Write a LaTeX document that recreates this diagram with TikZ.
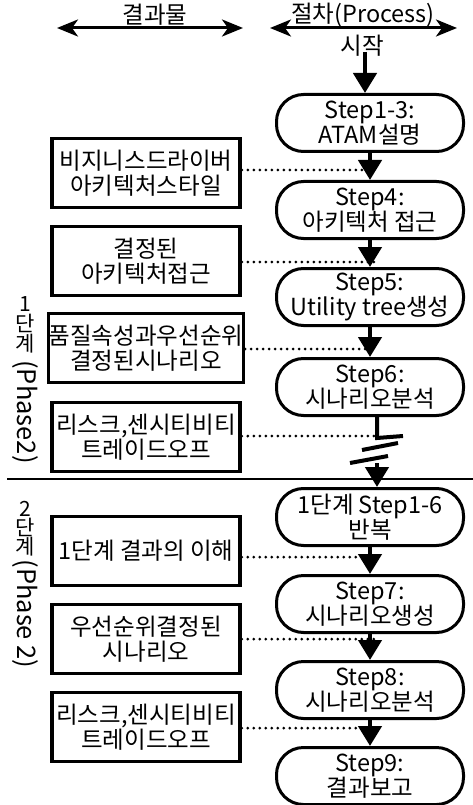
\documentclass[tikz,border=0pt]{standalone}
\usepackage{fontspec}
\setmainfont{Noto Sans CJK KR}
\usetikzlibrary{arrows.meta}
\begin{document}
\begin{tikzpicture}[x=1pt,y=-1pt,
  txt/.style={font=\fontsize{23.5}{25}\selectfont, inner sep=0pt, align=center},
  stepbox/.style={txt, draw, line width=3pt, minimum width=187pt, minimum height=57pt, rounded corners=27pt},
  outbox/.style={txt, draw, line width=3.5pt, minimum width=188pt, minimum height=69pt},
  flow/.style={line width=4.5pt, -{Triangle[length=20pt,width=23pt]}},
  dotline/.style={line width=3pt, line cap=round, dash pattern=on 0pt off 6pt},
  dbl/.style={line width=3pt, {Stealth[length=21pt,width=17pt,inset=6pt]}-{Stealth[length=21pt,width=17pt,inset=6pt]}},
  vchar/.style={font=\fontsize{21}{21}\selectfont, inner sep=0pt, text height=15pt, text depth=2pt},
  vrot/.style={font=\fontsize{25.5}{26}\selectfont, inner sep=0pt, rotate=-90},
  brk/.style={line width=4pt}
]
\useasboundingbox (0,0) rectangle (473,805);

% headers
\coordinate (la) at (57,28); \coordinate (lb) at (243,28);
\coordinate (ra) at (270,28); \coordinate (rb) at (457,28);
\draw[dbl] (la) -- (lb);
\draw[dbl] (ra) -- (rb);
\node[txt] (t1) at (155,15) {결과물};
\node[txt] (t2) at (363,15) {절차(Process)};
\node[txt] (s) at (362,46) {시작};

% process steps
\node[stepbox] (p1) at (370,123) {Step1-3:\\ATAM설명};
\node[stepbox] (p2) at (370,210) {Step4:\\아키텍처 접근};
\node[stepbox] (p3) at (370,297) {Step5:\\Utility tree생성};
\node[stepbox] (p4) at (370,387) {Step6:\\시나리오분석};
\node[stepbox] (p5) at (370,517) {1단계 Step1-6\\반복};
\node[stepbox] (p6) at (370,604) {Step7:\\시나리오생성};
\node[stepbox] (p7) at (370,690) {Step8:\\시나리오분석};
\node[stepbox] (p8) at (370,776) {Step9:\\결과보고};

% outputs
\node[outbox] (b1) at (146,173) {비지니스드라이버\\아키텍처스타일};
\node[outbox] (b2) at (146,261) {결정된\\아키텍처접근};
\node[outbox] (b3) at (146,348) {품질속성과우선순위\\결정된시나리오};
\node[outbox] (b4) at (146,437) {리스크,센시티비티\\트레이드오프};
\node[outbox] (b5) at (146,551) {1단계 결과의 이해};
\node[outbox] (b6) at (146,639) {우선순위결정된\\시나리오};
\node[outbox] (b7) at (146,727) {리스크,센시티비티\\트레이드오프};

% vertical phase labels
\node[vchar] (v1a) at (25,305) {1};
\node[vchar] (v1b) at (25,325) {단};
\node[vchar] (v1c) at (25,345) {계};
\node[vrot] (v1d) at (25,412) {(Phase2)};
\node[vchar] (v2a) at (25,510) {2};
\node[vchar] (v2b) at (25,529) {단};
\node[vchar] (v2c) at (25,548) {계};
\node[vrot] (v2d) at (25,614) {(Phase 2)};

% separator
\coordinate (sa) at (7,479); \coordinate (sb) at (473,479);
\draw[line width=2pt] (sa) -- (sb);

% flow arrows
\coordinate (s0) at (365,52);
\draw[flow] (s0) -- (p1.north -| s0);
\draw[flow] (p1) -- (p2);
\draw[flow] (p2) -- (p3);
\draw[flow] (p3) -- (p4);
\draw[flow] (p5) -- (p6);
\draw[flow] (p6) -- (p7);
\draw[flow] (p7) -- (p8);

% broken connector
\coordinate (z0) at (377,415);
\coordinate (z1) at (377,438);
\coordinate (z2) at (403,436);
\coordinate (z3) at (362,450);
\coordinate (z4) at (398,443);
\coordinate (z5) at (350,463);
\coordinate (z6) at (388,456);
\coordinate (zt) at (377,463);
\draw[brk] (z0) -- (z1) -- (z2);
\draw[brk] (z3) -- (z4);
\draw[brk] (z5) -- (z6);
\draw[flow] (zt) -- (p5.north -| zt);

% dotted links
\coordinate (d1) at (377,170);
\coordinate (d2) at (377,262);
\coordinate (d3) at (377,349);
\coordinate (d4) at (377,436);
\coordinate (d5) at (377,557);
\coordinate (d6) at (377,639);
\coordinate (d7) at (377,728);
\draw[dotline] (b1.east |- d1) -- (d1);
\draw[dotline] (b2.east |- d2) -- (d2);
\draw[dotline] (b3.east |- d3) -- (d3);
\draw[dotline] (b4.east |- d4) -- (d4);
\draw[dotline] (b5.east |- d5) -- (d5);
\draw[dotline] (b6.east |- d6) -- (d6);
\draw[dotline] (b7.east |- d7) -- (d7);
\end{tikzpicture}
\end{document}
